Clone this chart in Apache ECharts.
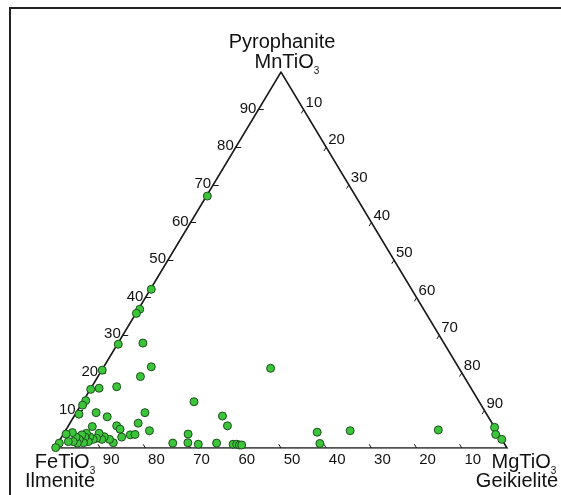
<!DOCTYPE html>
<html><head><meta charset="utf-8">
<script src="https://cdn.jsdelivr.net/npm/echarts@6/dist/echarts.min.js"></script>
<style>html,body{margin:0;padding:0;background:#fff}#c{width:561px;height:495px}</style>
</head><body><div id="c"></div>
<script>
// Ternary compositions (%)
const feTiO3 = [32.8,57.6,62.8,64.1,72.2,66.6,79.2,67.9,71.6,41.7,84.3,82.3,78.2,86.9,88.2,90.2,86.2,84.3,75.4,63.1,58.7,58.9,78.3,76.8,83.4,83.1,88.9,83.8,81.6,80.5,86.4,86.8,87.6,88.5,88.3,89.5,90.4,90.8,91.8,91.1,91.9,93.0,92.3,93.5,94.4,93.9,95.1,96.2,94.1,95.7,98.4,99.8,68.7,73.3,69.9,67.8,63.6,60.1,59.3,58.8,58.3,39.9,40.8,32.4,12.8,0.0,0.7,0.0];
const mnTiO3 = [67.0,42.2,36.9,35.8,27.6,27.9,20.7,21.6,19.0,21.2,15.6,15.9,16.3,12.6,11.4,9.0,9.4,8.3,9.4,12.3,8.5,5.9,6.6,4.6,5.9,5.0,5.7,2.9,3.5,3.6,1.4,2.3,3.0,2.3,3.9,2.6,2.3,3.0,1.7,3.9,2.9,1.4,3.5,2.3,1.3,2.9,1.7,1.7,4.1,3.7,1.3,0.1,3.7,1.3,1.4,1.0,1.3,1.0,1.0,0.8,0.8,4.2,1.2,4.6,4.8,5.5,3.6,2.3];
const mgTiO3 = [0.2,0.2,0.3,0.1,0.2,5.5,0.1,10.5,9.4,37.1,0.1,1.8,5.5,0.5,0.4,0.8,4.4,7.4,15.2,24.6,32.8,35.2,15.1,18.6,10.7,11.9,5.4,13.3,14.9,15.9,12.2,10.9,9.4,9.2,7.8,7.9,7.3,6.2,6.5,5.0,5.2,5.6,4.2,4.2,4.3,3.2,3.2,2.1,1.8,0.6,0.3,0.1,27.6,25.4,28.7,31.2,35.1,38.9,39.7,40.4,40.9,55.9,58.0,63.0,82.4,94.5,95.7,97.7];

const tickValues = [10,20,30,40,50,60,70,80,90];
const leftTickLabels = ['10','20','30','40','50','60','70','80','90'];   // MnTiO3 along left edge
const rightTickLabels = ['10','20','30','40','50','60','70','80','90'];  // MgTiO3 along right edge
const bottomTickLabels = ['90','80','70','60','50','40','30','20','10']; // FeTiO3 along bottom edge

const H = Math.sqrt(3) / 2;
function toXY(fe, mn, mg) {
  const s = fe + mn + mg;
  const m = mn / s * 100, g = mg / s * 100;
  return [g + m / 2, m * H];
}

const points = feTiO3.map((fe, i) => toXY(fe, mnTiO3[i], mgTiO3[i]));
const triangle = [toXY(100,0,0), toXY(0,0,100), toXY(0,100,0), toXY(100,0,0)];

const TL = 1.0;
const tickLines = [];
const leftLbl = [], rightLbl = [], bottomLbl = [];
tickValues.forEach((v, i) => {
  const b = toXY(100 - v, 0, v);
  tickLines.push({coords: [b, [b[0] - 0.5 * TL, b[1] + H * TL]]});
  bottomLbl.push({value: b, name: bottomTickLabels[i]});
  const l = toXY(100 - v, v, 0);
  tickLines.push({coords: [l, [l[0] + 1.2 * TL, l[1]]]});
  leftLbl.push({value: l, name: leftTickLabels[i]});
  const r = toXY(0, 100 - v, v);
  tickLines.push({coords: [r, [r[0] - 0.5 * TL, r[1] - H * TL]]});
  rightLbl.push({value: r, name: rightTickLabels[i]});
});

const FONT = 'Liberation Sans, Arial, sans-serif';
const TXT = '#111';
const tickLabelStyle = {show: true, formatter: '{b}', fontSize: 15, color: TXT, opacity: 1, fontFamily: FONT};
const sub = {m: {fontSize: 20, lineHeight: 28, fontFamily: FONT, color: TXT, fill: TXT}, s: {fontSize: 10, lineHeight: 11, verticalAlign: 'bottom', fontFamily: FONT, color: TXT, fill: TXT}};

const chart = echarts.init(document.getElementById('c'));
chart.setOption({
  animation: false,
  backgroundColor: '#fff',
  grid: {left: 55, right: 54, top: 72, bottom: 47},
  xAxis: {type: 'value', min: 0, max: 100, show: false},
  yAxis: {type: 'value', min: 0, max: 100 * H, show: false},
  graphic: [
    {type: 'rect', shape: {x: 10, y: 8, width: 600, height: 600}, style: {fill: 'none', stroke: '#222', lineWidth: 2}, z: 100},
    {type: 'text', x: 282, y: 42, style: {text: 'Pyrophanite', fontSize: 20, fill: TXT, fontFamily: FONT, align: 'center', verticalAlign: 'middle'}},
    {type: 'text', x: 287, y: 62, style: {text: '{m|MnTiO}{s|3}', fill: TXT, fontFamily: FONT, align: 'center', verticalAlign: 'middle', rich: sub}},
    {type: 'text', x: 65, y: 462, style: {text: '{m|FeTiO}{s|3}', fill: TXT, fontFamily: FONT, align: 'center', verticalAlign: 'middle', rich: sub}},
    {type: 'text', x: 60, y: 481, style: {text: 'Ilmenite', fontSize: 20, fill: TXT, fontFamily: FONT, align: 'center', verticalAlign: 'middle'}},
    {type: 'text', x: 524, y: 462, style: {text: '{m|MgTiO}{s|3}', fill: TXT, fontFamily: FONT, align: 'center', verticalAlign: 'middle', rich: sub}},
    {type: 'text', x: 517, y: 481, style: {text: 'Geikielite', fontSize: 20, fill: TXT, fontFamily: FONT, align: 'center', verticalAlign: 'middle'}}
  ],
  series: [
    {type: 'line', data: triangle, symbol: 'none', lineStyle: {color: '#1a1a1a', width: 1.6, join: 'miter'}, z: 2, silent: true},
    {type: 'lines', coordinateSystem: 'cartesian2d', data: tickLines, lineStyle: {color: '#1a1a1a', width: 1, opacity: 1}, z: 2, silent: true},
    {type: 'scatter', data: leftLbl, symbolSize: 0, clip: false, itemStyle: {opacity: 1}, label: Object.assign({position: 'left', distance: 2, offset: [0, -1]}, tickLabelStyle), silent: true},
    {type: 'scatter', data: rightLbl, symbolSize: 0, clip: false, itemStyle: {opacity: 1}, label: Object.assign({position: 'right', distance: 2, offset: [0, -7]}, tickLabelStyle), silent: true},
    {type: 'scatter', data: bottomLbl, symbolSize: 0, clip: false, itemStyle: {opacity: 1}, label: Object.assign({position: 'bottom', distance: 4, offset: [11, 0]}, tickLabelStyle), silent: true},
    {type: 'scatter', data: points, symbolSize: 8, clip: false, itemStyle: {color: '#3cc53a', borderColor: '#1d4f1d', borderWidth: 1, opacity: 1}, z: 5}
  ]
});
</script></body></html>
